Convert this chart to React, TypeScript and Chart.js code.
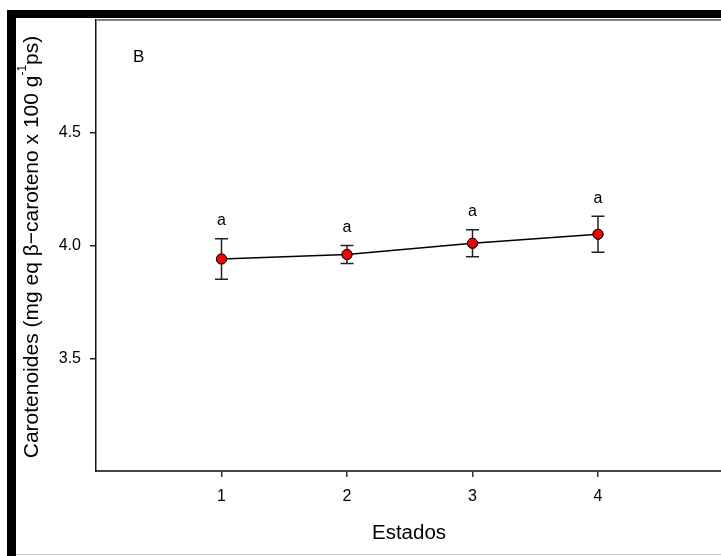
import React, { useEffect, useRef } from "react";
import { Chart, registerables } from "chart.js";

Chart.register(...registerables);

const estados: number[] = [1, 2, 3, 4];
const carotenoides: number[] = [3.94, 3.96, 4.01, 4.05];
const errores: number[] = [0.09, 0.04, 0.06, 0.08];
const letras: string[] = ["a", "a", "a", "a"];
const yTicks: number[] = [3.5, 4.0, 4.5];
const xTicks: number[] = [1, 2, 3, 4];
const panelLabel = "B";
const xTitle = "Estados";
const yTitleParts = { main: "Carotenoides (mg eq β−caroteno x 100 g", sup: "-1", tail: "ps)" };

const FONT = "Arial, 'Liberation Sans', sans-serif";

const framePlugin = {
  id: "frame",
  beforeDraw(chart: any) {
    const ctx = chart.ctx;
    const { width, height } = chart;
    ctx.save();
    ctx.fillStyle = "#ffffff";
    ctx.fillRect(0, 0, width, height);
    ctx.fillStyle = "#000000";
    ctx.fillRect(7, 10, width - 7, 8);
    ctx.fillRect(7, 10, 9, height - 10);
    ctx.fillStyle = "#c8c8c8";
    ctx.fillRect(16, height - 2, width - 16, 1);
    ctx.restore();
  },
  afterDraw(chart: any) {
    const ctx = chart.ctx;
    const ca = chart.chartArea;
    ctx.save();
    // top frame line
    ctx.strokeStyle = "#808080";
    ctx.lineWidth = 2;
    ctx.beginPath();
    ctx.moveTo(ca.left, ca.top);
    ctx.lineTo(chart.width, ca.top);
    ctx.stroke();
    // panel label
    ctx.fillStyle = "#000";
    ctx.font = `17px ${FONT}`;
    ctx.textAlign = "left";
    ctx.textBaseline = "middle";
    ctx.fillText(panelLabel, 133, 57);
    // x title
    ctx.font = `20.5px ${FONT}`;
    ctx.textAlign = "center";
    ctx.fillText(xTitle, 409, 533);
    // y title rotated
    ctx.translate(32, 247);
    ctx.rotate(-Math.PI / 2);
    const big = `21px ${FONT}`;
    const small = `12px ${FONT}`;
    ctx.font = big;
    const w1 = ctx.measureText(yTitleParts.main).width;
    const w3 = ctx.measureText(yTitleParts.tail).width;
    ctx.font = small;
    const w2 = ctx.measureText(yTitleParts.sup).width;
    const total = w1 + w2 + w3;
    let x = -total / 2;
    ctx.textAlign = "left";
    ctx.textBaseline = "middle";
    ctx.font = big;
    ctx.fillText(yTitleParts.main, x, 0);
    x += w1;
    ctx.font = small;
    ctx.fillText(yTitleParts.sup, x, -9);
    x += w2;
    ctx.font = big;
    ctx.fillText(yTitleParts.tail, x, 0);
    ctx.restore();
  },
};

const errorBarPlugin = {
  id: "errorBars",
  afterDatasetsDraw(chart: any) {
    const ctx = chart.ctx;
    const xs = chart.scales.x;
    const ys = chart.scales.y;
    ctx.save();
    ctx.strokeStyle = "#222";
    ctx.lineWidth = 1.5;
    estados.forEach((e, i) => {
      const px = xs.getPixelForValue(e);
      const top = ys.getPixelForValue(carotenoides[i] + errores[i]);
      const bot = ys.getPixelForValue(carotenoides[i] - errores[i]);
      ctx.beginPath();
      ctx.moveTo(px, top);
      ctx.lineTo(px, bot);
      ctx.moveTo(px - 6.5, top);
      ctx.lineTo(px + 6.5, top);
      ctx.moveTo(px - 6.5, bot);
      ctx.lineTo(px + 6.5, bot);
      ctx.stroke();
      ctx.fillStyle = "#000";
      ctx.font = `16px ${FONT}`;
      ctx.textAlign = "center";
      ctx.textBaseline = "middle";
      ctx.fillText(letras[i], px, top - 18);
    });
    // redraw points above bars
    const meta = chart.getDatasetMeta(0);
    meta.data.forEach((pt: any) => pt.draw(ctx, chart.chartArea));
    ctx.restore();
  },
};

export default function App() {
  const ref = useRef<HTMLCanvasElement | null>(null);
  useEffect(() => {
    if (!ref.current) return;
    const chart = new Chart(ref.current, {
      type: "line",
      data: {
        datasets: [
          {
            data: estados.map((e, i) => ({ x: e, y: carotenoides[i] })),
            borderColor: "#000",
            borderWidth: 1.5,
            pointBackgroundColor: "#ff0000",
            pointBorderColor: "#000",
            pointBorderWidth: 1,
            pointRadius: 5,
            tension: 0,
          },
        ],
      },
      options: {
        animation: false,
        responsive: false,
        maintainAspectRatio: false,
        events: [],
        layout: { autoPadding: false, padding: { left: 0, top: 20, right: 0, bottom: 0 } },
        plugins: { legend: { display: false }, tooltip: { enabled: false } },
        scales: {
          x: {
            type: "linear",
            min: 0,
            max: 4.98,
            afterBuildTicks: (s: any) => {
              s.ticks = xTicks.map((v) => ({ value: v }));
            },
            afterFit: (s: any) => {
              s.height = 85;
              s.paddingLeft = 0;
              s.paddingRight = 0;
            },
            grid: { drawOnChartArea: false, drawTicks: true, tickLength: 6, color: "#333", lineWidth: 1.5 },
            border: { display: true, color: "#444", width: 2 },
            ticks: { color: "#000", font: { family: FONT, size: 16 }, padding: 10, callback: (v: any) => String(v) },
          },
          y: {
            type: "linear",
            min: 3.0,
            max: 5.0,
            afterBuildTicks: (s: any) => {
              s.ticks = yTicks.map((v) => ({ value: v }));
            },
            afterFit: (s: any) => {
              s.width = 96;
              s.paddingTop = 0;
              s.paddingBottom = 0;
            },
            grid: { drawOnChartArea: false, drawTicks: true, tickLength: 6, color: "#222", lineWidth: 1.5 },
            border: { display: true, color: "#111", width: 1.5 },
            ticks: {
              color: "#000",
              font: { family: FONT, size: 16 },
              padding: 9,
              callback: (v: any) => Number(v).toFixed(1),
            },
          },
        },
      },
      plugins: [framePlugin, errorBarPlugin],
    } as any);
    return () => chart.destroy();
  }, []);
  return (
    <div style={{ position: "fixed", left: 0, top: 0, width: 721, height: 556, overflow: "hidden" }}>
      <canvas ref={ref} width={721} height={556} style={{ display: "block" }} />
    </div>
  );
}
